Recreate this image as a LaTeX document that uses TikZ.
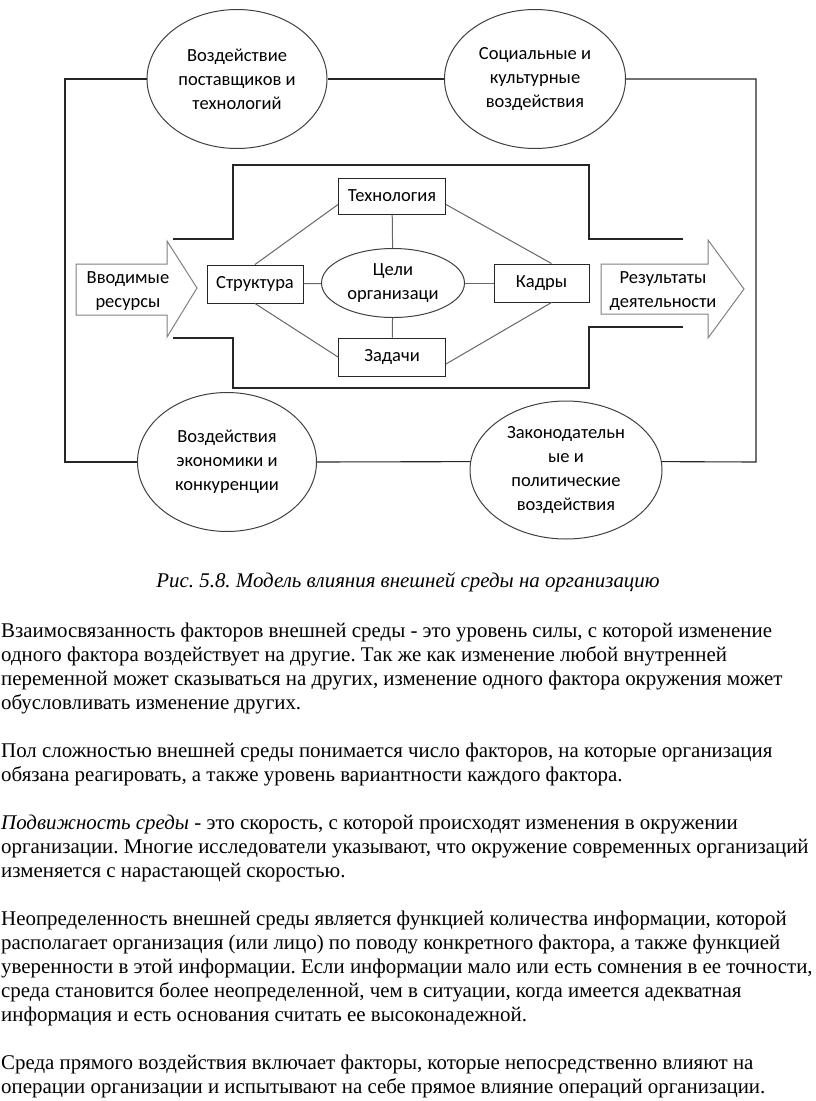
\documentclass[tikz,border=0pt]{standalone}
\usepackage{fontspec}
\setmainfont{Liberation Serif}
\newfontfamily\calibri{Carlito}
\usetikzlibrary{shapes.geometric,calc,positioning}
\frenchspacing

\begin{document}
\begin{tikzpicture}[x=1pt,y=-1pt]

  % Define styles
  \tikzset{
    factor/.style={draw=black!75, line width=1pt, ellipse, inner sep=0pt, align=center, font=\calibri\fontsize{18.5}{24}\selectfont},
    unit/.style={draw=black!85, line width=1pt, rectangle, inner sep=0pt, font=\calibri\fontsize{18.5}{24}\selectfont},
    frame/.style={draw=black!85, line width=1.1pt},
    link/.style={draw=black!60, line width=1pt},
    flow/.style={draw=black!50, line width=1pt},
    flowtext/.style={align=center, inner sep=0pt, font=\calibri\fontsize{18.5}{24}\selectfont},
    bodytext/.style={anchor=base west, inner sep=0pt, font=\fontsize{20.9}{24}\selectfont}
  }
  \useasboundingbox (0,0) rectangle (816,1101);

  % Outer factors
  \node[factor, minimum width=180pt, minimum height=139pt] (supply) at (237,79) {Воздействие\\поставщиков и\\технологий};
  \node[factor, minimum width=181pt, minimum height=139pt] (social) at (535,79) {Социальные и\\культурные\\воздействия};
  \node[factor, minimum width=179pt, minimum height=139pt] (economy) at (227,462) {Воздействия\\экономики и\\конкуренции};
  \node[factor, minimum width=192pt, minimum height=138pt] (law) at (566,470) {Законодательн\\ые и\\политические\\воздействия};

  % Outer frame
  \coordinate (ftl) at (65,79);
  \coordinate (ftr) at (756,79);
  \coordinate (fbl) at (65,462);
  \coordinate (fbr) at (756,462);
  \draw[frame] (supply.west) -- (ftl) -- (fbl) -- (economy.west);
  \draw[frame] (supply.east) -- (social.west);
  \draw[frame] (social.east) -- (ftr) -- (fbr) -- (law.5);
  \draw[frame] (economy.east) -- (law.175);

  % Organisation
  \draw[frame] (173,239) -- (233,239) -- (233,165) -- (589,165) -- (589,239) -- (683,239);
  \draw[frame] (173,338) -- (233,338) -- (233,388) -- (589,388) -- (589,327) -- (683,327);

  % Input and output
  \draw[flow] (76,264) -- (167,264) -- (167,241) -- (197,288) -- (167,337) -- (167,315) -- (76,315) -- cycle;
  \node[flowtext] (input) at (128,291) {Вводимые\\ресурсы};
  \draw[flow] (601,264) -- (708,264) -- (708,240) -- (744,289) -- (708,338) -- (708,314) -- (601,314) -- cycle;
  \node[flowtext] (output) at (663,291) {Результаты\\деятельности};

  % Internal variables
  \node[unit, minimum width=107pt, minimum height=36pt] (tech) at (392,196) {Технология};
  \node[unit, minimum width=96pt, minimum height=38pt] (struct) at (255,284) {Структура};
  \node[factor, minimum width=143pt, minimum height=69pt] (goals) at (393,283) {Цели\\организаци};
  \node[unit, minimum width=95pt, minimum height=38pt] (staff) at (541.5,283) {Кадры};
  \node[unit, minimum width=107pt, minimum height=38pt] (tasks) at (392,357) {Задачи};

  \draw[link] (struct.north) -- ($(tech.south west)+(0,-10)$);
  \draw[link] ($(tech.south east)+(0,-10)$) -- ($(staff.north)+(10,0)$);
  \draw[link] (struct.south) -- (tasks.west);
  \draw[link] ($(tasks.east)+(0,7)$) -- ($(staff.south)+(10,0)$);
  \draw[link] (tech) -- (goals);
  \draw[link] (goals) -- (tasks);
  \draw[link] (struct) -- (goals);
  \draw[link] (goals) -- (staff);

  % Caption and text
  \node[anchor=base, inner sep=0pt, font=\fontsize{20.9}{24}\selectfont\itshape] (caption) at (408,587) {Рис. 5.8. Модель влияния внешней среды на организацию};
  \foreach \yb/\txt [count=\n] in {
    637/{Взаимосвязанность факторов внешней среды - это уровень силы, с которой изменение},
    661/{одного фактора воздействует на другие. Так же как изменение любой внутренней},
    685/{переменной может сказываться на других, изменение одного фактора окружения может},
    709/{обусловливать изменение других.},
    757/{Пол сложностью внешней среды понимается число факторов, на которые организация},
    781/{обязана реагировать, а также уровень вариантности каждого фактора.},
    829/{{\itshape Подвижность среды} - это скорость, с которой происходят изменения в окружении},
    853/{организации. Многие исследователи указывают, что окружение современных организаций},
    877/{изменяется с нарастающей скоростью.},
    925/{Неопределенность внешней среды является функцией количества информации, которой},
    949/{располагает организация (или лицо) по поводу конкретного фактора, а также функцией},
    973/{уверенности в этой информации. Если информации мало или есть сомнения в ее точности,},
    997/{среда становится более неопределенной, чем в ситуации, когда имеется адекватная},
    1021/{информация и есть основания считать ее высоконадежной.},
    1069/{Среда прямого воздействия включает факторы, которые непосредственно влияют на},
    1093/{операции организации и испытывают на себе прямое влияние операций организации.}}
    \node[bodytext] (line\n) at (1,\yb) {\txt};

\end{tikzpicture}
\end{document}
